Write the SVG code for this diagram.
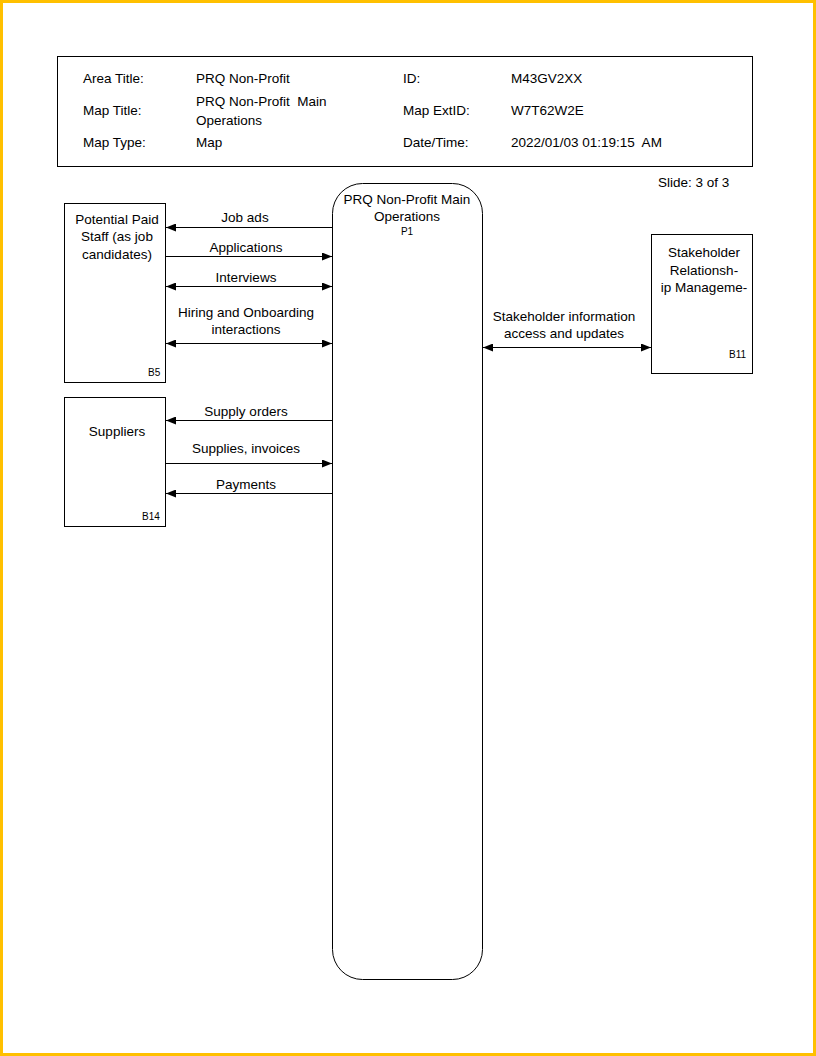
<svg xmlns="http://www.w3.org/2000/svg" width="816" height="1056" viewBox="0 0 816 1056">
<style>
text{font-family:"Liberation Sans",Arial,sans-serif;font-size:13.5px;fill:#000}
.c{text-anchor:middle}
.s{font-size:10px}
.box{fill:#fff;stroke:#000;stroke-width:1}
.ln{stroke:#000;stroke-width:1;fill:none}
</style>
<defs>
<marker id="ah" viewBox="0 0 10 8" refX="10" refY="4" markerWidth="10" markerHeight="8" markerUnits="userSpaceOnUse" orient="auto-start-reverse">
<path d="M0,0 L10,4 L0,8 z" fill="#000"/>
</marker>
</defs>
<rect x="1.5" y="1.5" width="813" height="1053" fill="#fff" stroke="#FFC000" stroke-width="3"/>
<g id="header">
<rect x="57.5" y="56.5" width="695" height="110" fill="#fff" stroke="#000"/>
<text x="83" y="83">Area Title:</text>
<text x="196" y="83">PRQ Non-Profit</text>
<text x="403" y="83">ID:</text>
<text x="511" y="83">M43GV2XX</text>
<text x="83" y="115">Map Title:</text>
<text x="196" y="106">PRQ Non-Profit&#160; Main</text>
<text x="196" y="125">Operations</text>
<text x="403" y="115">Map ExtID:</text>
<text x="511" y="115">W7T62W2E</text>
<text x="83" y="147">Map Type:</text>
<text x="196" y="147">Map</text>
<text x="403" y="147">Date/Time:</text>
<text x="511" y="147">2022/01/03 01:19:15&#160; AM</text>
<text x="658" y="187">Slide: 3 of 3</text>
</g>
<g id="P1">
<rect class="box" x="332.5" y="183.5" width="150" height="796" rx="30" ry="30"/>
<text class="c" x="407" y="204">PRQ Non-Profit Main</text>
<text class="c" x="407" y="221">Operations</text>
<text class="c s" x="407" y="235">P1</text>
</g>
<g id="B5">
<rect class="box" x="64.5" y="203.5" width="101" height="179"/>
<text class="c" x="117" y="224">Potential Paid</text>
<text class="c" x="117" y="241">Staff (as job</text>
<text class="c" x="117" y="259">candidates)</text>
<text class="s" x="148" y="376">B5</text>
</g>
<g id="B14">
<rect class="box" x="64.5" y="397.5" width="101" height="129"/>
<text class="c" x="117" y="436">Suppliers</text>
<text class="s" x="142" y="520">B14</text>
</g>
<g id="B11">
<rect class="box" x="651.5" y="234.5" width="101" height="139"/>
<text class="c" x="704" y="257">Stakeholder</text>
<text class="c" x="704" y="275">Relationsh-</text>
<text class="c" x="704" y="292">ip Manageme-</text>
<text class="s" x="729" y="358">B11</text>
</g>
<g id="connectors">
<line class="ln" x1="332" y1="227.5" x2="166" y2="227.5" marker-end="url(#ah)"/>
<text class="c" x="245" y="222">Job ads</text>
<line class="ln" x1="166" y1="256.5" x2="332" y2="256.5" marker-end="url(#ah)"/>
<text class="c" x="246" y="252">Applications</text>
<line class="ln" x1="166" y1="286.5" x2="332" y2="286.5" marker-start="url(#ah)" marker-end="url(#ah)"/>
<text class="c" x="246" y="282">Interviews</text>
<line class="ln" x1="166" y1="343.5" x2="332" y2="343.5" marker-start="url(#ah)" marker-end="url(#ah)"/>
<text class="c" x="246" y="317">Hiring and Onboarding</text>
<text class="c" x="246" y="334">interactions</text>
<line class="ln" x1="332" y1="420.5" x2="166" y2="420.5" marker-end="url(#ah)"/>
<text class="c" x="246" y="416">Supply orders</text>
<line class="ln" x1="166" y1="463.5" x2="332" y2="463.5" marker-end="url(#ah)"/>
<text class="c" x="246" y="453">Supplies, invoices</text>
<line class="ln" x1="332" y1="493.5" x2="166" y2="493.5" marker-end="url(#ah)"/>
<text class="c" x="246" y="489">Payments</text>
<line class="ln" x1="483" y1="347.5" x2="651" y2="347.5" marker-start="url(#ah)" marker-end="url(#ah)"/>
<text class="c" x="564" y="321">Stakeholder information</text>
<text class="c" x="564" y="338">access and updates</text>
</g>
</svg>
